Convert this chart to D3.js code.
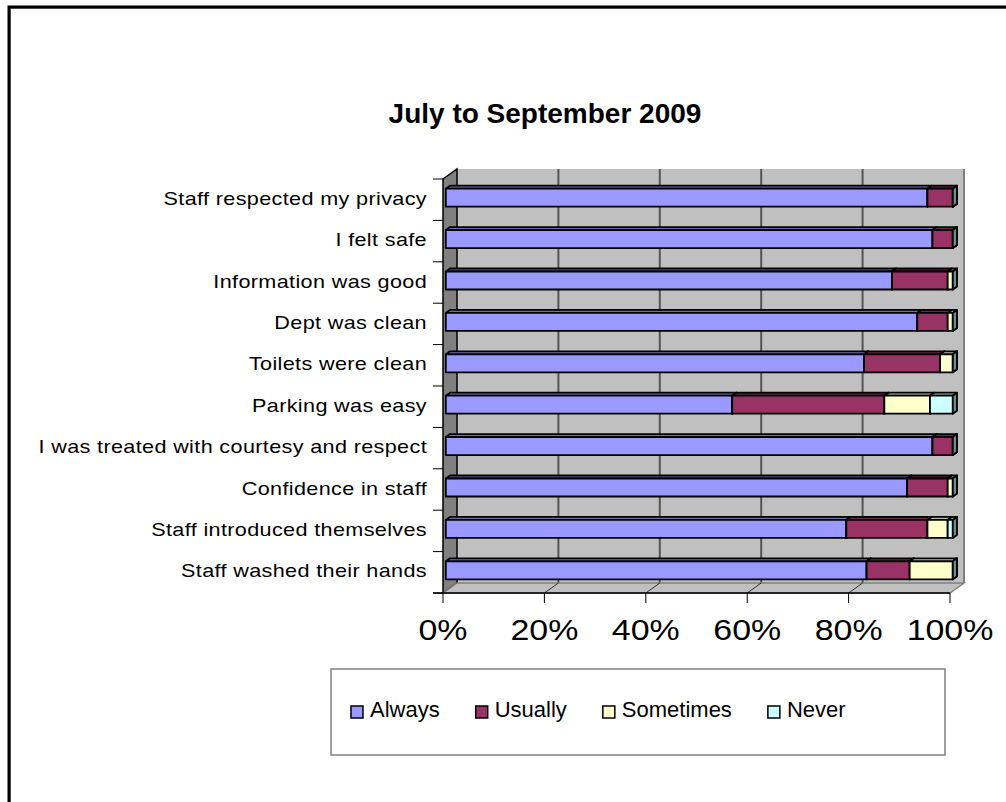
<!DOCTYPE html>
<html>
<head>
	<meta charset="utf-8">
	<title>July to September 2009</title>
	<script src="https://d3js.org/d3.v7.min.js"></script>
	<style>
		body { margin: 0; background: #fff; }
		text { font-family: "Liberation Sans", Arial, sans-serif; fill: #000; }
	</style>
</head>
<body>
	<script>

			var categories = ["Staff respected my privacy", "I felt safe", "Information was good",
				"Dept was clean", "Toilets were clean", "Parking was easy",
				"I was treated with courtesy and respect", "Confidence in staff",
				"Staff introduced themselves", "Staff washed their hands"];

			var seriesNames = ["Always", "Usually", "Sometimes", "Never"];
			var always    = [95, 96, 88, 93, 82.5, 56.5, 96, 91, 79, 83];
			var usually   = [5, 4, 11, 6, 15, 30, 4, 8, 16, 8.5];
			var sometimes = [0, 0, 1, 1, 2.5, 9, 0, 1, 4, 8.5];
			var never     = [0, 0, 0, 0, 0, 4.5, 0, 0, 1, 0];
			var tickValues = [0, 20, 40, 60, 80, 100];

			var colors = ["#9999FF", "#993366", "#FFFFCC", "#CCFFFF"];

			var svg = d3.select("body").append("svg")
							.attr("width", 1006)
							.attr("height", 802);

			// outer chart border (runs off the right and bottom)
			svg.append("rect").attr("x", 10.5).attr("y", 8.5).attr("width", 1100).attr("height", 900)
				.attr("fill", "none").attr("stroke", "#999").attr("stroke-width", 1);
			svg.append("rect").attr("x", 9).attr("y", 7).attr("width", 1100).attr("height", 900)
				.attr("fill", "none").attr("stroke", "#000").attr("stroke-width", 3);

			svg.append("text")
				.attr("x", 545).attr("y", 123)
				.attr("text-anchor", "middle")
				.attr("font-size", "28px")
				.attr("font-weight", "bold")
				.text("July to September 2009");

			// 3d geometry: front plane + depth offset
			var dx = 14, dy = -10;
			var x = d3.scaleLinear().domain([0, 100]).range([443, 950]);
			var y = d3.scaleBand().domain(categories).range([179, 593]);
			var f1 = 0.2, f2 = 0.5;     // bar front / back depth fractions
			var barH = y.bandwidth() * 0.435;

			var x0 = x(0), x1 = x(100), yTop = y.range()[0], yBot = y.range()[1];

			function poly(pts) { return "M" + pts.map(function (p) { return p.join(","); }).join("L") + "Z"; }

			// back wall
			svg.append("rect")
				.attr("x", x0 + dx).attr("y", yTop + dy)
				.attr("width", x1 - x0).attr("height", yBot - yTop)
				.attr("fill", "#C0C0C0");

			svg.selectAll(".grid").data(tickValues.slice(1))
				.enter().append("line")
				.attr("x1", function (d) { return x(d) + dx; })
				.attr("x2", function (d) { return x(d) + dx; })
				.attr("y1", yTop + dy).attr("y2", yBot + dy)
				.attr("stroke", function (d) { return d === 100 ? "#808080" : "#555"; })
				.attr("stroke-width", 2);

			// left side wall
			svg.append("path")
				.attr("d", poly([[x0, yTop], [x0 + dx, yTop + dy], [x0 + dx, yBot + dy], [x0, yBot]]))
				.attr("fill", "#808080").attr("stroke", "#000").attr("stroke-width", 1.5);

			// floor
			svg.append("path")
				.attr("d", poly([[x0, yBot], [x0 + dx, yBot + dy], [x1 + dx, yBot + dy], [x1, yBot]]))
				.attr("fill", "#C0C0C0").attr("stroke", "#808080").attr("stroke-width", 1.5);

			svg.selectAll(".fgrid").data(tickValues.slice(1, 5))
				.enter().append("line")
				.attr("x1", function (d) { return x(d); })
				.attr("x2", function (d) { return x(d) + dx; })
				.attr("y1", yBot).attr("y2", yBot + dy)
				.attr("stroke", "#333").attr("stroke-width", 1);

			// bars
			var rows = categories.map(function (c, i) {
				var vals = [always[i], usually[i], sometimes[i], never[i]];
				var acc = 0;
				return vals.map(function (v, k) {
					var s = { cat: c, k: k, x0: acc, x1: acc + v };
					acc += v;
					return s;
				});
			});

			function shade(c, f) {
				var r = d3.rgb(c);
				return d3.rgb(r.r * f, r.g * f, r.b * f).toString();
			}

			var bars = svg.append("g");
			rows.forEach(function (segs) {
				segs.forEach(function (s) {
					var cy = y(s.cat) + y.bandwidth() / 2;
					var fx0 = x(s.x0) + dx * f1, fx1 = x(s.x1) + dx * f1;
					var ft = cy - barH / 2 + dy * f1, fb = cy + barH / 2 + dy * f1;
					var ox = dx * (f2 - f1), oy = dy * (f2 - f1);
					var g = bars.append("g")
						.attr("stroke", "#000").attr("stroke-width", 1.8).attr("stroke-linejoin", "round");
					if (s.x1 > s.x0) {
						g.append("path")
							.attr("d", poly([[fx0, ft], [fx0 + ox, ft + oy], [fx1 + ox, ft + oy], [fx1, ft]]))
							.attr("fill", shade(colors[s.k], 0.72));
						g.append("rect")
							.attr("x", fx0).attr("y", ft)
							.attr("width", fx1 - fx0).attr("height", fb - ft)
							.attr("fill", colors[s.k]);
					}
					g.append("path")
						.attr("d", poly([[fx1, ft], [fx1 + ox, ft + oy], [fx1 + ox, fb + oy], [fx1, fb]]))
						.attr("fill", shade(colors[s.k], 0.55));
				});
			});

			// category axis ticks
			svg.selectAll(".ytick").data(d3.range(categories.length + 1))
				.enter().append("line")
				.attr("x1", x0 - 10).attr("x2", x0)
				.attr("y1", function (i) { return yTop + i * y.bandwidth(); })
				.attr("y2", function (i) { return yTop + i * y.bandwidth(); })
				.attr("stroke", "#000").attr("stroke-width", 1);

			// axis text in the original is drawn horizontally stretched
			svg.selectAll(".ylab").data(categories)
				.enter().append("text")
				.attr("transform", function (d) {
					return "translate(427," + (y(d) + y.bandwidth() / 2 + 5) + ") scale(1.2,1)";
				})
				.attr("text-anchor", "end")
				.attr("font-size", "18px")
				.attr("letter-spacing", "0.3px")
				.text(function (d) { return d; });

			// value axis
			svg.append("line")
				.attr("x1", x0 - 10).attr("x2", x1)
				.attr("y1", yBot).attr("y2", yBot)
				.attr("stroke", "#000").attr("stroke-width", 1.5);

			svg.selectAll(".xtick").data(tickValues)
				.enter().append("line")
				.attr("x1", function (d) { return x(d); })
				.attr("x2", function (d) { return x(d); })
				.attr("y1", yBot).attr("y2", yBot + 10)
				.attr("stroke", "#000").attr("stroke-width", 1);

			svg.selectAll(".xlab").data(tickValues)
				.enter().append("text")
				.attr("transform", function (d) { return "translate(" + x(d) + ",640) scale(1.17,1)"; })
				.attr("text-anchor", "middle")
				.attr("font-size", "29px")
				.text(function (d) { return d + "%"; });

			// legend
			svg.append("rect")
				.attr("x", 331).attr("y", 669).attr("width", 614).attr("height", 86)
				.attr("fill", "#fff").attr("stroke", "#808080").attr("stroke-width", 1.5);

			var lx = 351;
			seriesNames.forEach(function (name, k) {
				svg.append("rect")
					.attr("x", lx).attr("y", 706).attr("width", 12).attr("height", 12)
					.attr("fill", colors[k]).attr("stroke", "#000").attr("stroke-width", 1.5);
				var t = svg.append("text")
					.attr("x", lx + 19).attr("y", 717)
					.attr("font-size", "22px")
					.text(name);
				lx += 19 + t.node().getComputedTextLength() + 36;
			});

	</script>
</body>
</html>
